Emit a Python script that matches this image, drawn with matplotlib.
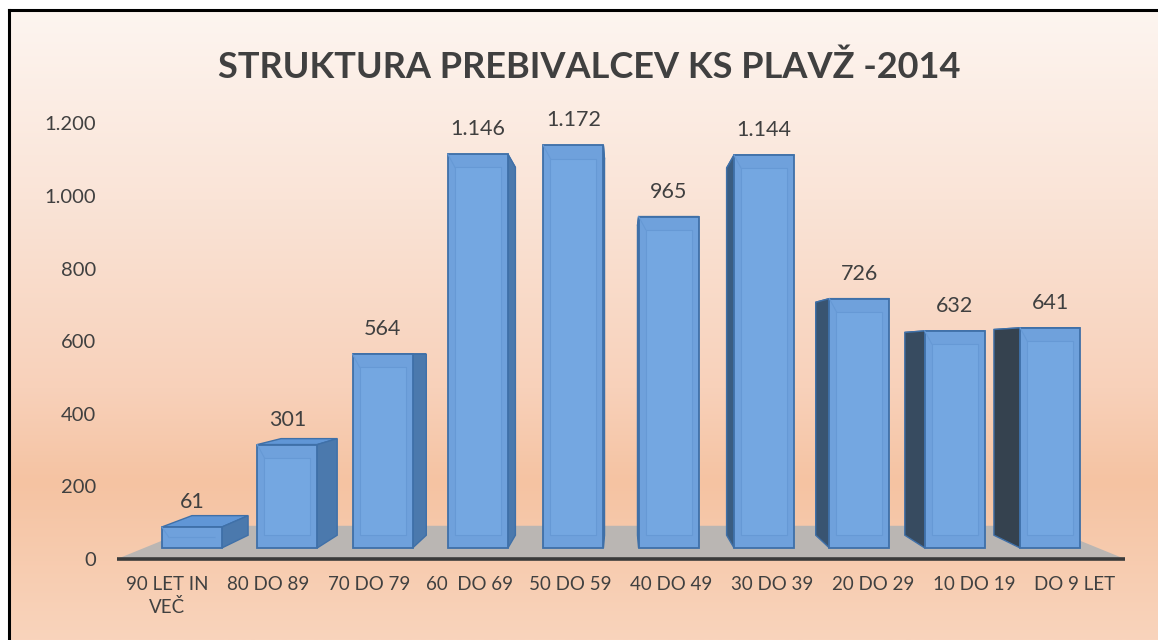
import numpy as np
import matplotlib
matplotlib.use('Agg')
import matplotlib.pyplot as plt
from matplotlib.patches import Polygon
from matplotlib.colors import LinearSegmentedColormap, to_rgb

plt.rcParams['font.family'] = ['Lato', 'DejaVu Sans']

# data
categories = ['90 LET IN\nVEČ', '80 DO 89', '70 DO 79', '60  DO 69', '50 DO 59',
              '40 DO 49', '30 DO 39', '20 DO 29', '10 DO 19', 'DO 9 LET']
values = [61, 301, 564, 1146, 1172, 965, 1144, 726, 632, 641]
yticks = [0, 200, 400, 600, 800, 1000, 1200]
title = 'STRUKTURA PREBIVALCEV KS PLAVŽ -2014'

# fake 3d perspective (front plane = axes data coords)
VX, VY = 4.5, 565.0      # vanishing point
S_FRONT, S_BACK, S_FLOOR = 0.054, 0.116, 0.162
HW = 0.315               # half bar width
TXT = '#404040'


def fmt(v):
    return f'{v:,.0f}'.replace(',', '.')


def proj(x, y, s):
    return (x + s * (VX - x), y + s * (VY - y))


def mix(c1, c2, t):
    a, b = np.array(to_rgb(c1)), np.array(to_rgb(c2))
    return tuple(a + (b - a) * t)


fig = plt.figure(figsize=(11.58, 6.4), dpi=100)
fig.patch.set_facecolor('white')

# background gradient panel with border
bg = fig.add_axes([9 / 1158, 0, 1 - 9 / 1158, 630 / 640], zorder=0)
cmap = LinearSegmentedColormap.from_list('bg', [
    (0.0, '#fdf5f0'), (0.3, '#fae4d7'), (0.6, '#f8d1ba'),
    (0.75, '#f5c3a2'), (1.0, '#f9d4bc')])
grad = np.linspace(0, 1, 256).reshape(-1, 1)
bg.imshow(grad, aspect='auto', cmap=cmap, extent=[0, 1, 0, 1], origin='upper')
bg.set_xlim(0, 1)
bg.set_ylim(0, 1)
bg.axis('off')
bg.plot([0, 0], [0, 1], color='black', lw=2.2, clip_on=False)
bg.plot([0, 1], [1, 1], color='black', lw=2.2, clip_on=False)

ax = fig.add_axes([117 / 1158, (640 - 559) / 640, 1008 / 1158, 1200 * 0.363 / 640], zorder=1)
ax.patch.set_alpha(0)
ax.set_xlim(-0.5, len(values) - 0.5)
ax.set_ylim(0, 1200)
for sp in ax.spines.values():
    sp.set_visible(False)

# floor
n = len(values)
floor = [(-0.5, 0), (n - 0.5, 0), proj(n - 0.5, 0, S_FLOOR), proj(-0.5, 0, S_FLOOR)]
ax.add_patch(Polygon(floor, closed=True, facecolor='#bab6b3', edgecolor='none',
                     zorder=1, clip_on=False))
ax.plot([-0.5, n - 0.5], [0, 0], color='#3a3a3a', lw=2.6, zorder=1.5,
        solid_capstyle='butt', clip_on=False)

edge = '#3f70a8'
for i, v in enumerate(values):
    x0, x1 = i - HW, i + HW
    fl_b, fr_b = proj(x0, 0, S_FRONT), proj(x1, 0, S_FRONT)
    fr_t, fl_t = proj(x1, v, S_FRONT), proj(x0, v, S_FRONT)
    bl_b, br_b = proj(x0, 0, S_BACK), proj(x1, 0, S_BACK)
    br_t, bl_t = proj(x1, v, S_BACK), proj(x0, v, S_BACK)

    # top face
    ax.add_patch(Polygon([fl_t, fr_t, br_t, bl_t], facecolor='#6096d6',
                         edgecolor=edge, lw=1, zorder=2, clip_on=False))
    # side face
    if fr_b[0] < VX - 0.05:
        side = [fr_b, fr_t, br_t, br_b]
        sc = '#4b79ad'
    elif fl_b[0] > VX + 0.05:
        side = [fl_b, fl_t, bl_t, bl_b]
        t = min(1.0, (i - VX) / 4.5)
        sc = mix('#3d6a9b', '#35424f', t)
    else:
        side = None
    if side:
        ax.add_patch(Polygon(side, facecolor=sc, edgecolor=edge, lw=1,
                             zorder=3, clip_on=False))
    # front face
    ax.add_patch(Polygon([fl_b, fr_b, fr_t, fl_t], facecolor='#6fa1dc',
                         edgecolor=edge, lw=1.3, zorder=4, clip_on=False))
    # bevel lines
    h = fr_t[1] - fr_b[1]
    iy = min(36, h / 2)
    ix = 0.07
    bev = '#6699d5'
    ax.add_patch(Polygon([(fl_b[0] + ix, fl_b[1] + iy), (fr_b[0] - ix, fr_b[1] + iy),
                          (fr_t[0] - ix, fr_t[1] - iy), (fl_t[0] + ix, fl_t[1] - iy)],
                         facecolor='#74a7e1', edgecolor=bev, lw=0.8,
                         zorder=5, clip_on=False))
    ax.plot([fl_b[0], fl_b[0] + ix], [fl_t[1], fl_t[1] - iy], color=bev,
            lw=0.8, zorder=5)

    # data label
    cx = (fl_t[0] + fr_t[0]) / 2
    ax.annotate(fmt(v), (cx, fl_t[1]), xytext=(0, 18), textcoords='offset points',
                ha='center', va='center', fontsize=15.5, color=TXT, zorder=6)

ax.set_yticks(yticks)
ax.set_yticklabels([fmt(t) for t in yticks], fontsize=14.5, color=TXT)
ax.set_xticks(range(n))
ax.set_xticklabels(categories, fontsize=13.5, color=TXT, linespacing=1.35, va='top')
ax.tick_params(axis='y', length=0, pad=15)
ax.tick_params(axis='x', length=0, pad=12)

fig.text(589 / 1158, 1 - 67 / 640, title, ha='center', va='center',
         fontsize=26, fontweight='bold', color=TXT)

fig.savefig('out.png', dpi=100)
